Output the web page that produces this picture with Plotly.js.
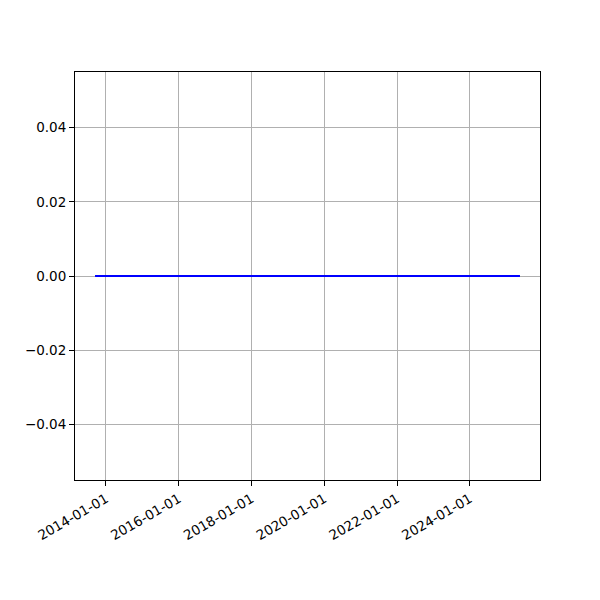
<!DOCTYPE html>
<html>
<head>
<meta charset="utf-8">
<script src="https://cdn.plot.ly/plotly-3.0.1.min.js"></script>
<style>body{margin:0;padding:0;background:#fff}#chart{width:600px;height:600px}</style>
</head>
<body>
<div id="chart"></div>
<script>
const dates = ['2013-09-13', '2025-05-17'];
const values = [0, 0];
const xTickVals = ['2014-01-01', '2016-01-01', '2018-01-01', '2020-01-01', '2022-01-01', '2024-01-01'];
const xTickText = ['2014-01-01', '2016-01-01', '2018-01-01', '2020-01-01', '2022-01-01', '2024-01-01'];
const yTickVals = [-0.04, -0.02, 0, 0.02, 0.04];
const yTickText = ['\u22120.04', '\u22120.02', '0.00', '0.02', '0.04'];

const trace = {
  x: dates, y: values, type: 'scatter', mode: 'lines',
  line: {color: '#0000ff', width: 2}, hoverinfo: 'skip'
};
const axisCommon = {
  showline: true, mirror: true, linecolor: '#000', linewidth: 1,
  ticks: 'outside', ticklen: 5, tickwidth: 1, tickcolor: '#000',
  showgrid: true, gridcolor: '#b0b0b0', gridwidth: 1, zeroline: false,
  tickfont: {family: 'DejaVu Sans', size: 13.5, color: '#000'}
};
const layout = {
  width: 600, height: 600,
  margin: {l: 75, r: 60, t: 72, b: 120},
  paper_bgcolor: '#fff', plot_bgcolor: '#fff',
  showlegend: false,
  xaxis: Object.assign({}, axisCommon, {
    type: 'date', range: ['2013-02-24', '2025-12-04'],
    tickmode: 'array', tickvals: xTickVals, ticktext: xTickText, tickangle: -30
  }),
  yaxis: Object.assign({}, axisCommon, {
    range: [-0.055, 0.055], tickmode: 'array', tickvals: yTickVals, ticktext: yTickText
  })
};
Plotly.newPlot('chart', [trace], layout, {staticPlot: true, displayModeBar: false});
</script>
</body>
</html>
